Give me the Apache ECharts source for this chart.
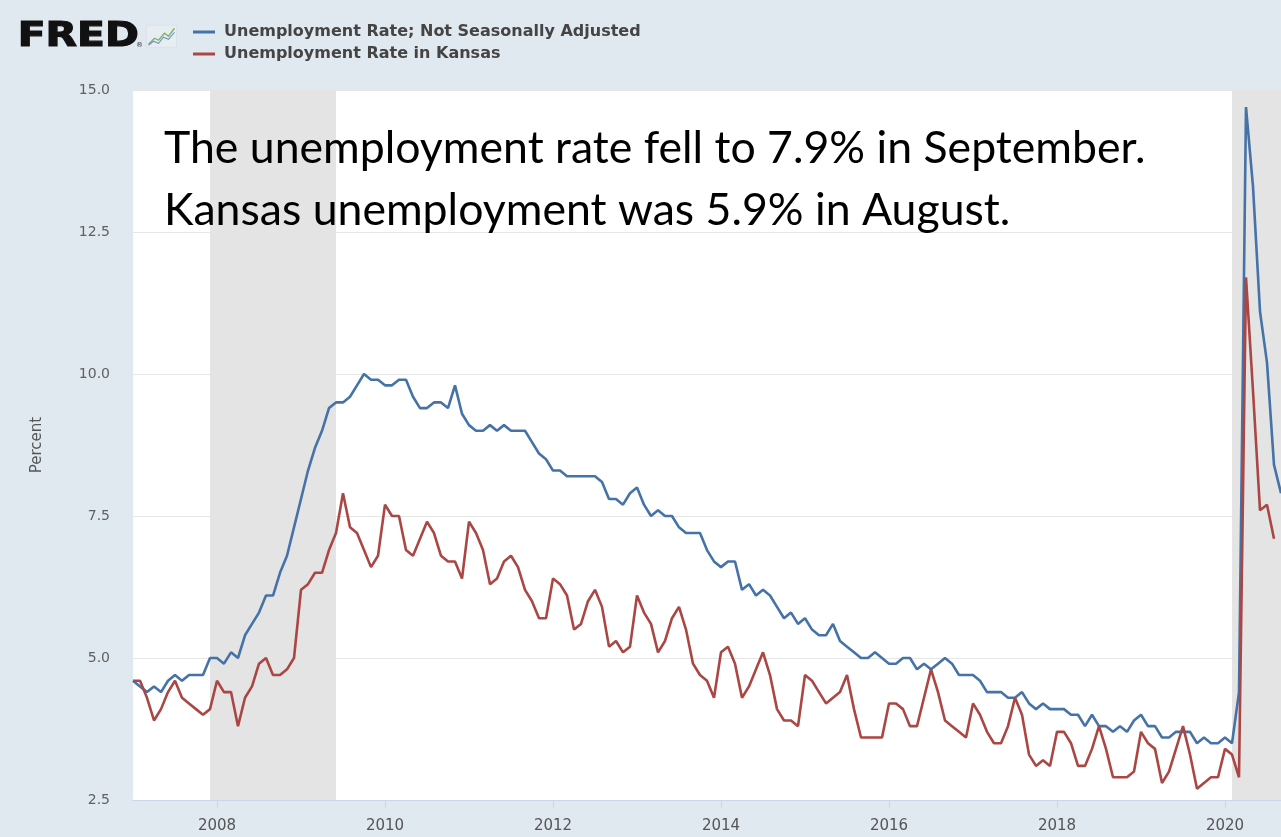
<!DOCTYPE html>
<html>
<head>
<meta charset="utf-8">
<script src="https://cdn.jsdelivr.net/npm/echarts@6/dist/echarts.min.js"></script>
<style>
html,body{margin:0;padding:0;background:#e1e9f0;}
#chart{width:1281px;height:837px;}
</style>
</head>
<body>
<div id="chart"></div>
<script>
// ---- data (monthly, Jan 2007 .. Sep 2020) ----
const startYear = 2007;
const endYear = 2020;
const endMonth = 9;

const usRate = [
  4.6, 4.5, 4.4, 4.5, 4.4, 4.6, 4.7, 4.6, 4.7, 4.7, 4.7, 5.0,
  5.0, 4.9, 5.1, 5.0, 5.4, 5.6, 5.8, 6.1, 6.1, 6.5, 6.8, 7.3,
  7.8, 8.3, 8.7, 9.0, 9.4, 9.5, 9.5, 9.6, 9.8, 10.0, 9.9, 9.9,
  9.8, 9.8, 9.9, 9.9, 9.6, 9.4, 9.4, 9.5, 9.5, 9.4, 9.8, 9.3,
  9.1, 9.0, 9.0, 9.1, 9.0, 9.1, 9.0, 9.0, 9.0, 8.8, 8.6, 8.5,
  8.3, 8.3, 8.2, 8.2, 8.2, 8.2, 8.2, 8.1, 7.8, 7.8, 7.7, 7.9,
  8.0, 7.7, 7.5, 7.6, 7.5, 7.5, 7.3, 7.2, 7.2, 7.2, 6.9, 6.7,
  6.6, 6.7, 6.7, 6.2, 6.3, 6.1, 6.2, 6.1, 5.9, 5.7, 5.8, 5.6,
  5.7, 5.5, 5.4, 5.4, 5.6, 5.3, 5.2, 5.1, 5.0, 5.0, 5.1, 5.0,
  4.9, 4.9, 5.0, 5.0, 4.8, 4.9, 4.8, 4.9, 5.0, 4.9, 4.7, 4.7,
  4.7, 4.6, 4.4, 4.4, 4.4, 4.3, 4.3, 4.4, 4.2, 4.1, 4.2, 4.1,
  4.1, 4.1, 4.0, 4.0, 3.8, 4.0, 3.8, 3.8, 3.7, 3.8, 3.7, 3.9,
  4.0, 3.8, 3.8, 3.6, 3.6, 3.7, 3.7, 3.7, 3.5, 3.6, 3.5, 3.5,
  3.6, 3.5, 4.4, 14.7, 13.3, 11.1, 10.2, 8.4, 7.9
];

const ksRate = [
  4.6, 4.6, 4.3, 3.9, 4.1, 4.4, 4.6, 4.3, 4.2, 4.1, 4.0, 4.1,
  4.6, 4.4, 4.4, 3.8, 4.3, 4.5, 4.9, 5.0, 4.7, 4.7, 4.8, 5.0,
  6.2, 6.3, 6.5, 6.5, 6.9, 7.2, 7.9, 7.3, 7.2, 6.9, 6.6, 6.8,
  7.7, 7.5, 7.5, 6.9, 6.8, 7.1, 7.4, 7.2, 6.8, 6.7, 6.7, 6.4,
  7.4, 7.2, 6.9, 6.3, 6.4, 6.7, 6.8, 6.6, 6.2, 6.0, 5.7, 5.7,
  6.4, 6.3, 6.1, 5.5, 5.6, 6.0, 6.2, 5.9, 5.2, 5.3, 5.1, 5.2,
  6.1, 5.8, 5.6, 5.1, 5.3, 5.7, 5.9, 5.5, 4.9, 4.7, 4.6, 4.3,
  5.1, 5.2, 4.9, 4.3, 4.5, 4.8, 5.1, 4.7, 4.1, 3.9, 3.9, 3.8,
  4.7, 4.6, 4.4, 4.2, 4.3, 4.4, 4.7, 4.1, 3.6, 3.6, 3.6, 3.6,
  4.2, 4.2, 4.1, 3.8, 3.8, 4.3, 4.8, 4.4, 3.9, 3.8, 3.7, 3.6,
  4.2, 4.0, 3.7, 3.5, 3.5, 3.8, 4.3, 4.0, 3.3, 3.1, 3.2, 3.1,
  3.7, 3.7, 3.5, 3.1, 3.1, 3.4, 3.8, 3.4, 2.9, 2.9, 2.9, 3.0,
  3.7, 3.5, 3.4, 2.8, 3.0, 3.4, 3.8, 3.3, 2.7, 2.8, 2.9, 2.9,
  3.4, 3.3, 2.9, 11.7, 9.7, 7.6, 7.7, 7.1, null
];

const recessions = [['2007-12', '2009-06'], ['2020-02', '2020-09']];
const yTicks = [2.5, 5.0, 7.5, 10.0, 12.5, 15.0];
const seriesNames = ['Unemployment Rate; Not Seasonally Adjusted', 'Unemployment Rate in Kansas'];
const noteLines = ['The unemployment rate fell to 7.9% in September.', 'Kansas unemployment was 5.9% in August.'];

// month categories
const months = [];
for (let y = startYear; y <= endYear; y++) {
  for (let m = 1; m <= 12; m++) {
    if (y === endYear && m > endMonth) break;
    months.push(y + '-' + String(m).padStart(2, '0'));
  }
}

function isLabelMonth(idx, val) {
  const v = months[idx];
  return v.endsWith('-01') && parseInt(v.slice(0, 4), 10) % 2 === 0;
}

// fit annotation font size to measured width
const mctx = document.createElement('canvas').getContext('2d');
mctx.font = '100px Lato';
const noteSize = Math.round(100 * 981 / mctx.measureText(noteLines[0]).width * 10) / 10;

const chart = echarts.init(document.getElementById('chart'), null, {renderer: 'canvas'});

const option = {
  backgroundColor: '#e1e9f0',
  animation: false,
  grid: {
    left: 133, top: 90, width: 1151, height: 710,
    show: true, backgroundColor: '#ffffff', borderWidth: 0
  },
  legend: {
    data: seriesNames,
    orient: 'vertical',
    left: 188, top: 19,
    itemWidth: 22, itemHeight: 3, itemGap: 6,
    icon: 'rect',
    textStyle: {
      fontFamily: 'DejaVu Sans', fontWeight: 'bold', fontSize: 16, color: '#444444',
      padding: [0, 0, 0, 4]
    }
  },
  xAxis: {
    type: 'category',
    data: months,
    boundaryGap: false,
    axisLine: {show: true, lineStyle: {color: '#ccd6eb', width: 1}},
    axisTick: {show: true, interval: isLabelMonth, length: 8, lineStyle: {color: '#ccd6eb'}},
    axisLabel: {
      interval: isLabelMonth,
      formatter: v => v.slice(0, 4),
      margin: 19,
      fontFamily: 'DejaVu Sans', fontSize: 15, color: '#555555'
    },
    splitLine: {show: false}
  },
  yAxis: {
    type: 'value',
    min: yTicks[0], max: yTicks[yTicks.length - 1], interval: 2.5,
    name: 'Percent',
    nameLocation: 'middle',
    nameGap: 88,
    nameRotate: 90,
    nameTextStyle: {fontFamily: 'DejaVu Sans', fontSize: 15, color: '#555555'},
    axisLine: {show: false},
    axisTick: {show: false},
    axisLabel: {
      formatter: v => v.toFixed(1),
      margin: 23,
      fontFamily: 'DejaVu Sans', fontSize: 14, color: '#606060'
    },
    splitLine: {show: true, lineStyle: {color: '#e6e6e6', width: 1}}
  },
  series: [
    {
      name: 'recessions',
      type: 'line',
      data: [],
      z: 1,
      silent: true,
      markArea: {
        silent: true,
        itemStyle: {color: '#e4e4e4'},
        data: recessions.map(r => [{xAxis: r[0]}, {xAxis: r[1]}])
      }
    },
    {
      name: seriesNames[0],
      type: 'line',
      data: usRate,
      z: 3,
      showSymbol: false,
      symbol: 'none',
      color: '#4572a7',
      lineStyle: {width: 2.6, color: '#4572a7'}
    },
    {
      name: seriesNames[1],
      type: 'line',
      data: ksRate,
      z: 4,
      showSymbol: false,
      symbol: 'none',
      color: '#aa4643',
      lineStyle: {width: 2.6, color: '#aa4643'}
    }
  ],
  graphic: [
    {
      type: 'text', left: 17, top: 20, z: 10,
      scaleX: 1.2,
      style: {
        text: 'FRED', fill: '#111111', stroke: '#111111', lineWidth: 1.2,
        font: 'bold 34px "DejaVu Sans"'
      }
    },
    {
      type: 'text', left: 136, top: 42, z: 10,
      style: {text: '®', fill: '#333', font: '7px "DejaVu Sans"'}
    },
    {
      type: 'group', left: 146, top: 25, z: 10,
      children: [
        {type: 'rect', shape: {x: 0, y: 0, width: 30, height: 22}, style: {fill: '#e8edf2', stroke: '#d0d8e0', lineWidth: 0.5}},
        {type: 'polyline', shape: {points: [[2, 19], [8, 13], [12, 15], [18, 8], [22, 11], [28, 3]]}, style: {stroke: '#7fb06a', lineWidth: 1.3, fill: null}},
        {type: 'polyline', shape: {points: [[2, 20], [7, 16], [12, 18], [17, 12], [22, 14], [28, 7]]}, style: {stroke: '#6d95c0', lineWidth: 1.1, fill: null}}
      ]
    },
    {
      type: 'text', left: 164, top: 126, z: 10,
      style: {text: noteLines[0], fill: '#000000', font: noteSize + 'px Lato'}
    },
    {
      type: 'text', left: 164, top: 188, z: 10,
      style: {text: noteLines[1], fill: '#000000', font: noteSize + 'px Lato'}
    }
  ]
};

chart.setOption(option);
</script>
</body>
</html>
